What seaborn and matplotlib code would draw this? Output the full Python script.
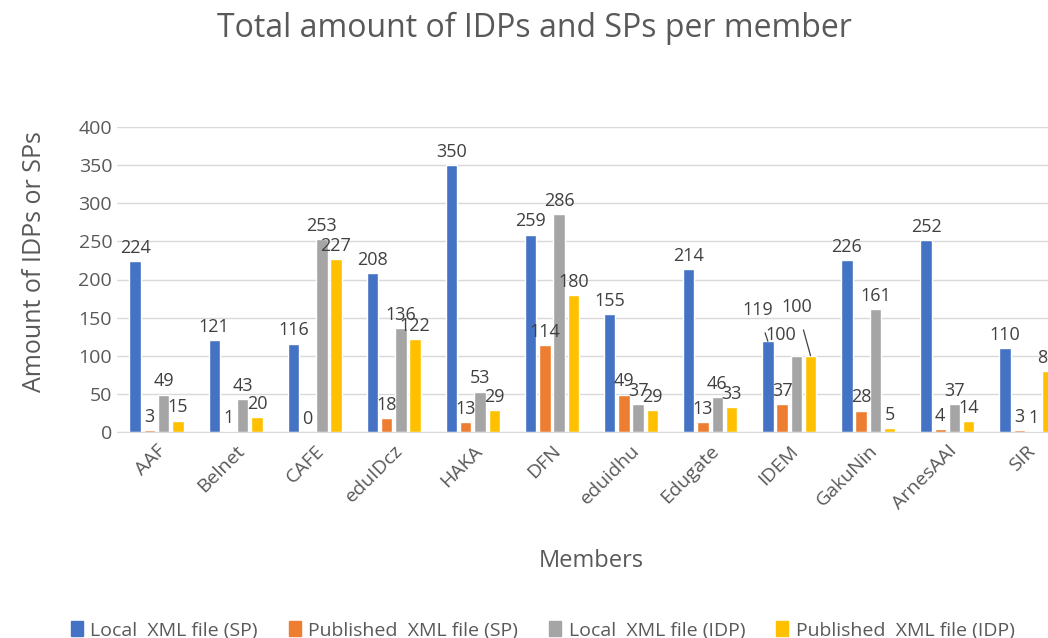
import pandas as pd
import matplotlib
matplotlib.use("Agg")
import matplotlib.pyplot as plt
import seaborn as sns

# data
members = ['AAF', 'Belnet', 'CAFE', 'eduIDcz', 'HAKA', 'DFN', 'eduidhu',
           'Edugate', 'IDEM', 'GakuNin', 'ArnesAAI', 'SIR']
series = ['Local  XML file (SP)', 'Published  XML file (SP)',
          'Local  XML file (IDP)', 'Published  XML file (IDP)']
local_sp = [224, 121, 116, 208, 350, 259, 155, 214, 119, 226, 252, 110]
published_sp = [3, 1, 0, 18, 13, 114, 49, 13, 37, 28, 4, 3]
local_idp = [49, 43, 253, 136, 53, 286, 37, 46, 100, 161, 37, 1]
published_idp = [15, 20, 227, 122, 29, 180, 29, 33, 100, 5, 14, 80]
colors = ['#4472C4', '#ED7D31', '#A5A5A5', '#FFC000']

rows = []
for name, vals in zip(series, [local_sp, published_sp, local_idp, published_idp]):
    for m, v in zip(members, vals):
        rows.append({'member': m, 'series': name, 'value': v})
df = pd.DataFrame(rows)

sns.set_style('white')
plt.rcParams['font.family'] = ['Open Sans', 'DejaVu Sans']
txt = '#595959'
lab = '#404040'

fig = plt.figure(figsize=(10.48, 6.38), dpi=100)
# plot area runs past the right edge, as in the cropped original
ax = fig.add_axes([117 / 1048, 206 / 638, 949 / 1048, 305 / 638])

sns.barplot(data=df, x='member', y='value', hue='series', palette=colors,
            saturation=1, width=0.72, gap=0.2, ax=ax, legend=False)

# IDEM labels are moved off the bars (with leader lines) like in the original
idem = members.index('IDEM')
moved = {0: (-0.40, 160, True), 2: (-0.11, 127, False), 3: (0.10, 164, True)}
for k, cont in enumerate(ax.containers):
    vals = [local_sp, published_sp, local_idp, published_idp][k]
    labels = [str(v) for v in vals]
    if k in moved:
        labels[idem] = ''
    ax.bar_label(cont, labels=labels, padding=3, fontsize=13, color=lab)
    if k in moved:
        dx, ty, leader = moved[k]
        bar = cont[idem]
        bx = bar.get_x() + bar.get_width() / 2
        ax.annotate(str(vals[idem]), xy=(bx, vals[idem]), xytext=(idem + dx, ty),
                    ha='center', va='center', fontsize=13, color=lab,
                    arrowprops=dict(arrowstyle='-', color=lab, lw=0.9,
                                    shrinkA=8, shrinkB=0) if leader else None)

ax.set_ylim(0, 400)
ax.set_yticks(range(0, 401, 50))
ax.set_xlim(-0.5, len(members) - 0.5)
ax.grid(axis='y', color='#d9d9d9', linewidth=1)
ax.set_axisbelow(True)
for s in ['top', 'right', 'left']:
    ax.spines[s].set_visible(False)
ax.spines['bottom'].set_color('#d9d9d9')
ax.tick_params(axis='both', length=0, labelsize=14, colors=txt)
ax.tick_params(axis='x', pad=7)
plt.setp(ax.get_xticklabels(), rotation=45, ha='right', rotation_mode='anchor')

ax.set_xlabel('Members', fontsize=17, color=txt, labelpad=26)
ax.set_ylabel('Amount of IDPs or SPs', fontsize=18, color=txt)
ax.yaxis.set_label_coords(-0.074, 0.56)
fig.text(0.51, 0.955, 'Total amount of IDPs and SPs per member',
         ha='center', va='center', fontsize=23, color=txt)

handles = [plt.Rectangle((0, 0), 1, 1, color=c) for c in colors]
fig.legend(handles, series, loc='lower center', bbox_to_anchor=(0.518, -0.03),
           ncol=4, frameon=False, fontsize=14, handlelength=0.6,
           handleheight=0.8, handletextpad=0.4, columnspacing=1.6,
           labelcolor=txt)

fig.savefig('out.png', dpi=100)
